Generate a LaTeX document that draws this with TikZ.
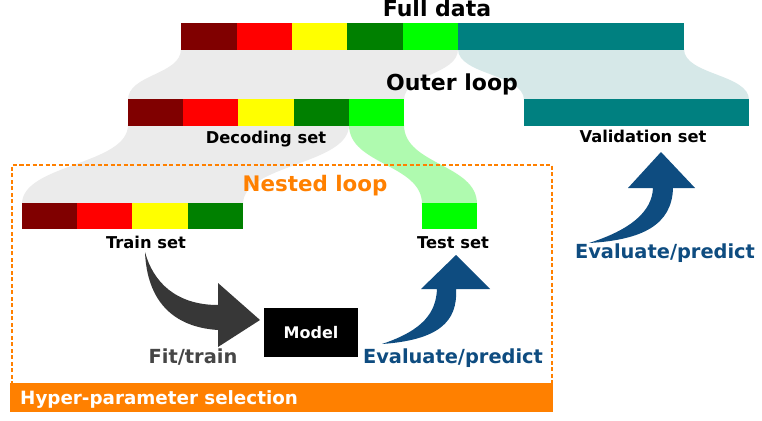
\documentclass[tikz,border=0pt]{standalone}
\usepackage{fontspec}
\setmainfont{DejaVu Sans}
\definecolor{cdred}{RGB}{128,0,0}
\definecolor{cred}{RGB}{255,0,0}
\definecolor{cyel}{RGB}{255,255,0}
\definecolor{cgreen}{RGB}{0,128,0}
\definecolor{clime}{RGB}{0,255,0}
\definecolor{cteal}{RGB}{0,128,128}
\definecolor{fgray}{RGB}{235,235,235}
\definecolor{fteal}{RGB}{214,232,232}
\definecolor{flime}{RGB}{175,250,175}
\definecolor{corange}{RGB}{255,128,0}
\definecolor{cblue}{RGB}{14,76,128}
\definecolor{cdark}{RGB}{55,55,55}
\definecolor{cfit}{RGB}{70,70,70}
\tikzset{
  lab/.style={inner sep=0pt, anchor=base, font=\bfseries\fontsize{16.3}{18}\selectfont},
  headlab/.style={inner sep=0pt, anchor=base, font=\bfseries\fontsize{22}{24}\selectfont},
  actlab/.style={inner sep=0pt, anchor=base, font=\bfseries\fontsize{19.4}{22}\selectfont},
  seg/.style={fill=#1},
}
\begin{document}
\begin{tikzpicture}[x=1pt,y=-1pt]
\useasboundingbox[fill=white] (0,0) rectangle (762,420);
% funnels
\fill[fgray] (181,49) .. controls (181,75) and (128,74) .. (128,100) -- (404,100) .. controls (404,74) and (458,75) .. (458,49) -- cycle;
\fill[fteal] (458,49) .. controls (458,75) and (524,74) .. (524,100) -- (749,100) .. controls (749,74) and (684,75) .. (684,49) -- cycle;
\fill[fgray] (128,125) .. controls (128,165) and (22,164) .. (22,204) -- (243,204) .. controls (243,164) and (349,165) .. (349,125) -- cycle;
\fill[flime] (349,125) .. controls (349,165) and (422,164) .. (422,204) -- (477,204) .. controls (477,164) and (404,165) .. (404,125) -- cycle;
% full data bar
\foreach \a/\b/\c in {181/237/cdred,237/292/cred,292/347/cyel,347/403/cgreen,403/458/clime,458/684/cteal}
  \fill[seg=\c] (\a,23) rectangle (\b,50);
% decoding bar
\foreach \a/\b/\c in {128/183/cdred,183/238/cred,238/294/cyel,294/349/cgreen,349/404/clime}
  \fill[seg=\c] (\a,99) rectangle (\b,126);
% validation bar
\fill[seg=cteal] (524,99) rectangle (749,126);
% train bar
\foreach \a/\b/\c in {22/77/cdred,77/132/cred,132/188/cyel,188/243/cgreen}
  \fill[seg=\c] (\a,203) rectangle (\b,229);
% test bar
\fill[seg=clime] (422,203) rectangle (477,229);
% nested loop box
\draw[corange, line width=2.5pt, dash pattern=on 4pt off 2.5pt] (12,385) -- (12,165) -- (552,165) -- (552,385);
\fill[corange] (10,383) rectangle (553,412);
% labels
\node[headlab] (full) at (437,17) {Full data};
\node[headlab] (outer) at (452,90) {Outer loop};
\node[lab] (dec) at (266,143) {Decoding set};
\node[lab] (val) at (643,142) {Validation set};
\node[headlab, text=corange, font=\bfseries\fontsize{21.4}{24}\selectfont] (nested) at (315,191) {Nested loop};
\node[lab] (train) at (146,248) {Train set};
\node[lab] (test) at (453,248) {Test set};
\node[inner sep=0pt, anchor=base west, text=white, font=\bfseries\fontsize{18.3}{20}\selectfont] (hyper) at (20,404) {Hyper-parameter selection};
\node[fill=black, minimum width=94pt, minimum height=49pt, inner sep=0pt, text=white, font=\bfseries\fontsize{16}{18}\selectfont] (model) at (311,332.5) {Model};
\node[actlab, text=cfit] (fit) at (193,363) {Fit/train};
\node[actlab, text=cblue] (eval1) at (453,363) {Evaluate/predict};
\node[actlab, text=cblue] (eval2) at (665,258) {Evaluate/predict};
% fit arrow
\fill[cdark] (145,252) .. controls (153,282) and (176,305) .. (218,305) -- (218,283) -- (260,320) -- (218,347) -- (218,330) .. controls (172,327) and (147,300) .. (145,252) -- cycle;
% evaluate arrow 1
\fill[cblue] (382,344) .. controls (424,330) and (436,312) .. (437,289) -- (421,289) -- (456,255) -- (490,289) -- (456,289) .. controls (458,322) and (438,340) .. (382,344) -- cycle;
% evaluate arrow 2
\fill[cblue] (589,243) .. controls (630,230) and (652,212) .. (653,188) -- (628,188) -- (661,152) -- (695,188) -- (673,188) .. controls (672,225) and (642,240) .. (589,243) -- cycle;
\end{tikzpicture}
\end{document}
